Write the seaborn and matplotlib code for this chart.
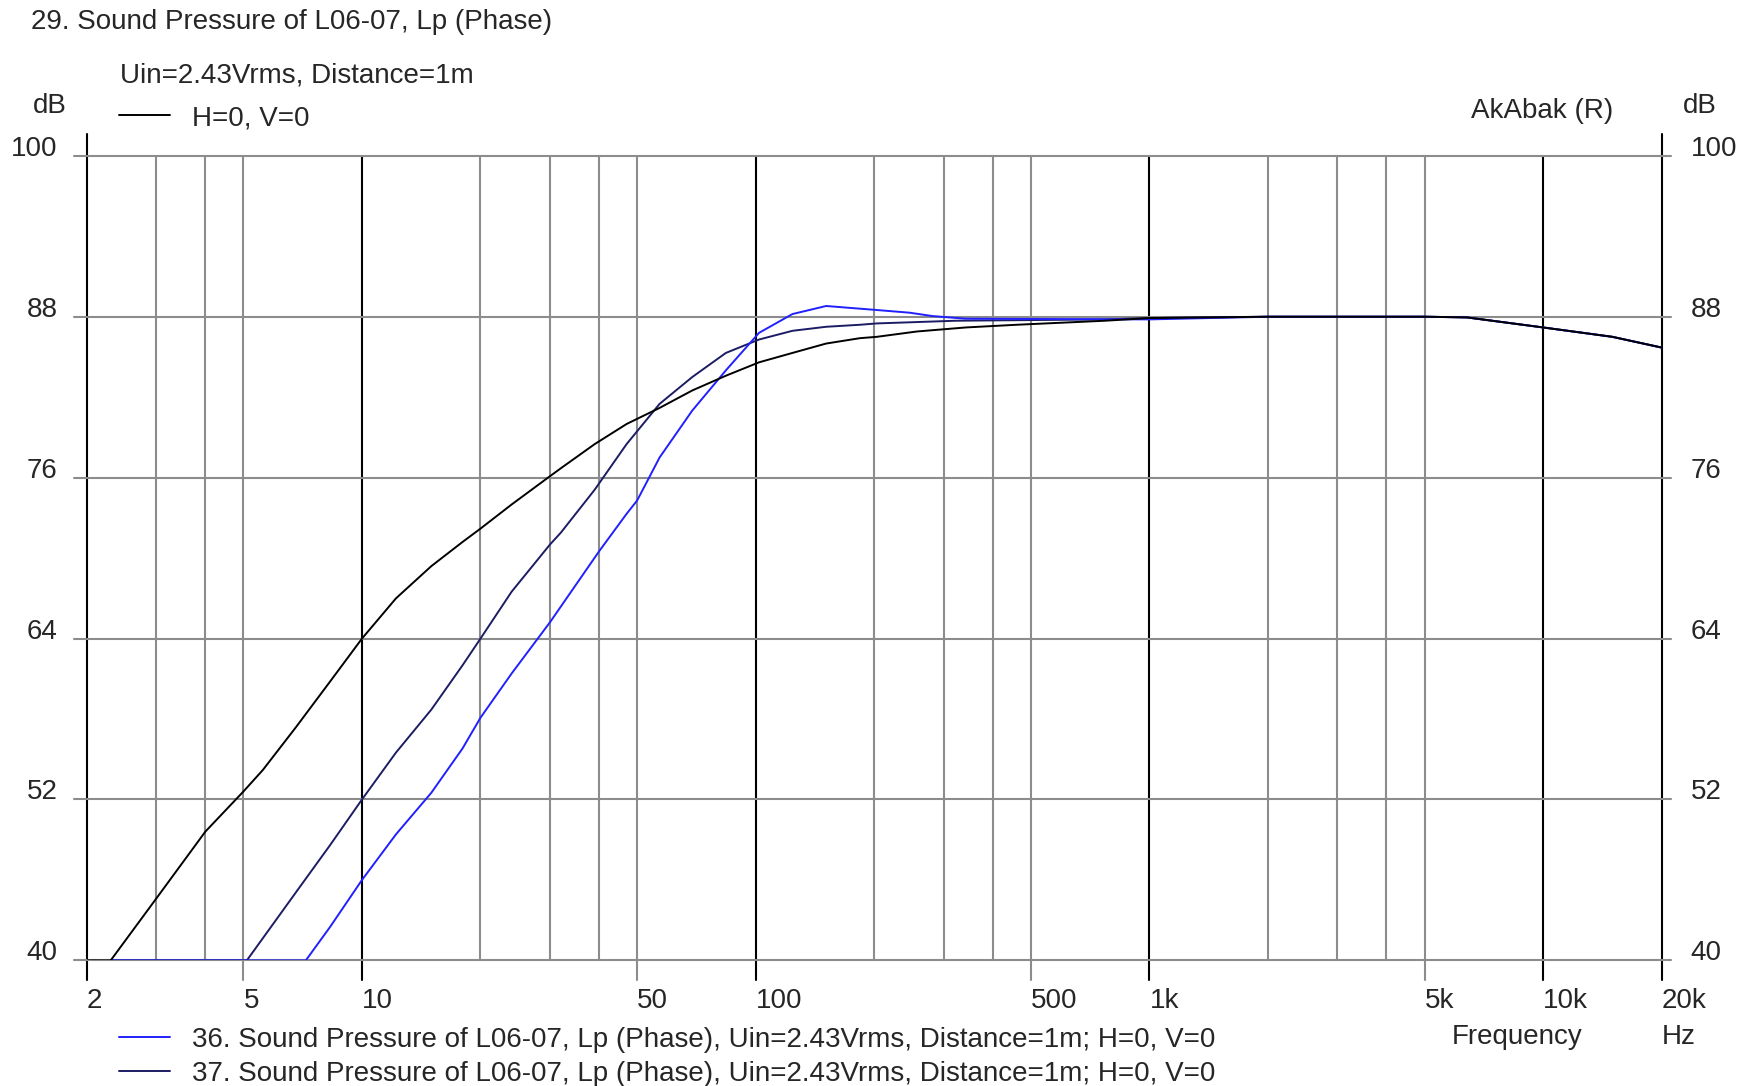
import numpy as np
import pandas as pd
import seaborn as sns
import matplotlib.pyplot as plt

# frequency response curves (Hz, dB)
freq_29 = [2, 2.3, 3, 4, 5, 5.6, 6.8, 8.3, 10, 12.2, 15, 18, 20, 24, 30, 32,
           39, 47, 57, 69, 84, 102, 124, 151, 184, 203, 257, 342, 460, 770,
           1000, 2000, 5000, 6400, 10000, 15000, 20000]
spl_29 = [40, 40, 44.6, 49.6, 52.6, 54.2, 57.4, 60.8, 64.0, 67.0, 69.4, 71.2,
          72.2, 74.0, 76.1, 76.7, 78.5, 80.0, 81.2, 82.5, 83.6, 84.6, 85.3,
          86.0, 86.4, 86.5, 86.9, 87.2, 87.4, 87.7, 87.9, 88.0, 88.0, 87.95,
          87.2, 86.5, 85.7]

freq_36 = [2.3, 7.2, 8.3, 10, 12.2, 15, 18, 20, 24, 30, 40, 47, 50, 57,
           69, 84, 102, 124, 151, 184, 203, 246, 281, 342, 1000, 2000, 5000,
           6400, 10000, 15000, 20000]
spl_36 = [40, 40, 42.5, 46.0, 49.4, 52.5, 55.8, 58.1, 61.4, 65.2, 70.5,
          73.3, 74.3, 77.5, 81.0, 84.0, 86.8, 88.2, 88.8, 88.6, 88.5, 88.3,
          88.05, 87.85, 87.8, 88.0, 88.0, 87.95, 87.2, 86.5, 85.7]

freq_37 = [2.3, 5.1, 7, 8.3, 10, 12.2, 15, 18, 20, 24, 30, 32, 39, 47, 57, 69,
           84, 102, 124, 151, 184, 203, 322, 770, 1000, 2000, 5000, 6400,
           10000, 15000, 20000]
spl_37 = [40, 40, 45.6, 48.6, 52.0, 55.5, 58.7, 62.0, 64.0, 67.5, 71.0, 71.9,
          75.1, 78.5, 81.5, 83.5, 85.3, 86.3, 86.95, 87.25, 87.4, 87.5, 87.7,
          87.8, 87.9, 88.0, 88.0, 87.95, 87.2, 86.5, 85.7]

x_ticks = [2, 5, 10, 50, 100, 500, 1000, 5000, 10000, 20000]
x_labels = ["2", "5", "10", "50", "100", "500", "1k", "5k", "10k", "20k"]
x_grid = [3, 4, 20, 30, 40, 200, 300, 400, 2000, 3000, 4000]
y_ticks = [40, 52, 64, 76, 88, 100]

title = "29. Sound Pressure of L06-07, Lp (Phase)"
subtitle = "Uin=2.43Vrms, Distance=1m"
label_29 = "H=0, V=0"
label_36 = "36. Sound Pressure of L06-07, Lp (Phase), Uin=2.43Vrms, Distance=1m; H=0, V=0"
label_37 = "37. Sound Pressure of L06-07, Lp (Phase), Uin=2.43Vrms, Distance=1m; H=0, V=0"

sns.set_style("white")
plt.rcParams['font.family'] = ['Liberation Sans', 'DejaVu Sans']
plt.rcParams['font.size'] = 20

W, H = 1745, 1086
fig = plt.figure(figsize=(W / 100, H / 100), dpi=100)
ax = fig.add_axes([86.8 / W, 1 - 960.4 / H, (1661.6 - 86.8) / W, (960.4 - 155.8) / H])
ax.set_xscale('log')
ax.set_xlim(2, 20000)
ax.set_ylim(40, 100)

grey = "#8c8c8c"
# grid, the labelled ones poke out below the plot
for f in x_grid:
    ax.axvline(f, color=grey, lw=1.5, zorder=1)
for f in x_ticks:
    c = "black" if f in (2, 10, 100, 1000, 10000, 20000) else grey
    top = 1.027 if f in (2, 20000) else 1
    ax.axvline(f, ymin=-0.024, ymax=top, color=c, lw=1.5, zorder=1, clip_on=False)
for v in y_ticks:
    ax.plot([-0.008, 1.006], [v, v], color=grey, lw=1.5, zorder=1,
            transform=ax.get_yaxis_transform(), clip_on=False)

df37 = pd.DataFrame({"f": freq_37, "dB": spl_37})
df36 = pd.DataFrame({"f": freq_36, "dB": spl_36})
df29 = pd.DataFrame({"f": freq_29, "dB": spl_29})
sns.lineplot(data=df37, x="f", y="dB", color="#1c1c64", lw=1.4, ax=ax, zorder=3)
sns.lineplot(data=df36, x="f", y="dB", color="#2020ff", lw=1.4, ax=ax, zorder=3)
sns.lineplot(data=df29, x="f", y="dB", color="black", lw=1.4, ax=ax, zorder=4)
l37, l36, l29 = ax.get_lines()[-3:]

for s in ax.spines.values():
    s.set_visible(False)
ax.set_xlabel("")
ax.set_ylabel("")

ax.set_xticks(x_ticks)
ax.set_xticklabels(x_labels, ha='left')
ax.xaxis.set_minor_locator(plt.NullLocator())
ax.set_yticks(y_ticks)
ax.tick_params(axis='x', length=0, pad=20)
ax.tick_params(axis='y', length=0, pad=21, labelright=True)
for t in ax.yaxis.get_major_ticks():
    t.label1.set_va('baseline')
    t.label2.set_va('baseline')

fig.text(31 / W, 1 - 22 / H, title, va='center')
fig.text(120 / W, 1 - 76 / H, subtitle, va='center')
fig.text(33 / W, 1 - 106 / H, "dB", va='center')
fig.text(1683 / W, 1 - 106 / H, "dB", va='center')
fig.text(1471 / W, 1 - 111 / H, "AkAbak (R)", va='center')
fig.text(1452 / W, 1 - 1037 / H, "Frequency", va='center')
fig.text(1662 / W, 1 - 1037 / H, "Hz", va='center')

fig.legend([l29], [label_29], loc='center left', bbox_to_anchor=(119 / W, 1 - 118 / H),
           frameon=False, borderpad=0, borderaxespad=0, handlelength=1.83,
           handletextpad=0.79)
fig.legend([l36, l37], [label_36, label_37], loc='center left',
           bbox_to_anchor=(119 / W, 1 - 1057 / H), frameon=False, borderpad=0,
           borderaxespad=0, handlelength=1.83, handletextpad=0.79, labelspacing=0.28)

fig.savefig("out.png", dpi=100)
